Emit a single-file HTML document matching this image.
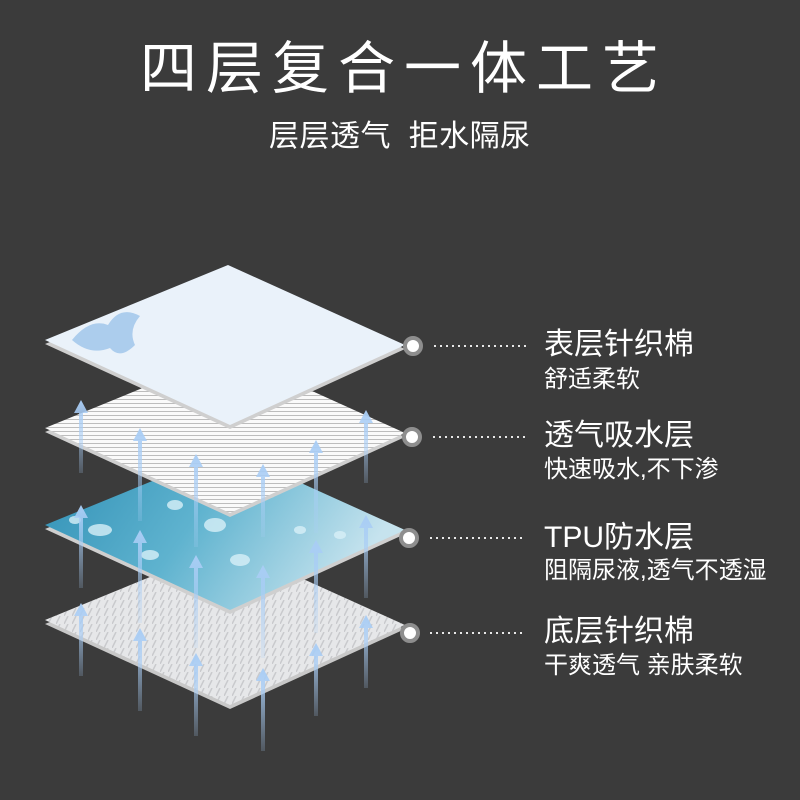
<!DOCTYPE html>
<html><head><meta charset="utf-8"><style>
html,body{margin:0;padding:0;background:#3b3b3b;}
body{width:800px;height:800px;position:relative;overflow:hidden;font-family:"Liberation Sans","Noto Sans CJK SC",sans-serif;color:#fff;}
.t{position:absolute;white-space:nowrap;}
.m{font-size:30px;line-height:36px}
.s{font-size:24px;line-height:28px}
</style></head><body>
<svg width="800" height="800" style="position:absolute;left:0;top:0">
<defs>
<pattern id="stripes" width="6" height="4" patternUnits="userSpaceOnUse"><rect width="6" height="4" fill="#fafafa"/><rect y="3" width="6" height="1" fill="#bdbdbd"/></pattern>
<linearGradient id="water" x1="0" y1="0" x2="1" y2="0.3"><stop offset="0" stop-color="#2f8fb5"/><stop offset="0.5" stop-color="#5fb3cf"/><stop offset="1" stop-color="#c6e3ee"/></linearGradient>
<pattern id="weave" width="8" height="8" patternUnits="userSpaceOnUse"><rect width="8" height="8" fill="#e6e7e9"/><path d="M0 8 L4 0" stroke="#c9cacd" stroke-width="1.5"/></pattern>
<linearGradient id="arr" x1="0" y1="0" x2="0" y2="1"><stop offset="0" stop-color="#a9cdf5"/><stop offset="1" stop-color="#a9cdf5" stop-opacity="0.2"/></linearGradient>
</defs>
<g transform="translate(0,280)">
<polygon points="45,344 228,269 405,349 230,429" fill="#c8c8c8"/>
<polygon points="45,340 228,265 405,345 230,425" fill="url(#weave)"/>
</g>
<g transform="translate(0,185)">
<polygon points="45,344 228,269 405,349 230,429" fill="#cfcfcf"/>
<polygon points="45,340 228,265 405,345 230,425" fill="url(#water)"/>
<g fill="#d8f0f8" opacity="0.8">
<ellipse cx="100" cy="345" rx="12" ry="6"/><ellipse cx="215" cy="340" rx="11" ry="7"/><ellipse cx="175" cy="320" rx="8" ry="5"/><ellipse cx="240" cy="375" rx="10" ry="6"/><ellipse cx="300" cy="345" rx="6" ry="4"/><ellipse cx="150" cy="370" rx="9" ry="5"/><ellipse cx="270" cy="310" rx="5" ry="3"/><ellipse cx="340" cy="350" rx="6" ry="4"/><ellipse cx="75" cy="335" rx="6" ry="4"/>
</g></g>
<g transform="translate(0,88)">
<polygon points="45,344 228,269 405,349 230,429" fill="#cfcfcf"/>
<polygon points="45,340 228,265 405,345 230,425" fill="url(#stripes)"/>
</g>
<polygon points="45,344 228,269 405,349 230,429" fill="#cfcfcf"/>
<polygon points="45,340 228,265 405,345 230,425" fill="#eaf2fa"/>
<path d="M72,340 Q90,318 108,325 Q120,305 140,316 Q128,330 135,345 Q120,360 110,348 Q90,356 72,340Z" fill="#9cc3ea" opacity="0.8"/>
<g fill="url(#arr)">
<path d="M81,400 l-7,13 h5 v60 h4 v-60 h5z"/>
<path d="M140,428 l-7,13 h5 v80 h4 v-80 h5z"/>
<path d="M196,454 l-7,13 h5 v80 h4 v-80 h5z"/>
<path d="M263,464 l-7,13 h5 v60 h4 v-60 h5z"/>
<path d="M316,440 l-7,13 h5 v80 h4 v-80 h5z"/>
<path d="M366,410 l-7,13 h5 v60 h4 v-60 h5z"/>
<path d="M81,505 l-7,13 h5 v70 h4 v-70 h5z"/>
<path d="M140,530 l-7,13 h5 v80 h4 v-80 h5z"/>
<path d="M196,555 l-7,13 h5 v80 h4 v-80 h5z"/>
<path d="M263,565 l-7,13 h5 v80 h4 v-80 h5z"/>
<path d="M316,540 l-7,13 h5 v80 h4 v-80 h5z"/>
<path d="M366,515 l-7,13 h5 v70 h4 v-70 h5z"/>
<path d="M81,603 l-7,13 h5 v60 h4 v-60 h5z"/>
<path d="M140,628 l-7,13 h5 v70 h4 v-70 h5z"/>
<path d="M196,653 l-7,13 h5 v70 h4 v-70 h5z"/>
<path d="M263,668 l-7,13 h5 v70 h4 v-70 h5z"/>
<path d="M316,643 l-7,13 h5 v60 h4 v-60 h5z"/>
<path d="M366,615 l-7,13 h5 v60 h4 v-60 h5z"/>
</g>
<g fill="#fff" stroke="#8e8e8e" stroke-width="4">
<circle cx="413" cy="346" r="8"/><circle cx="412" cy="437" r="8"/><circle cx="409" cy="538" r="8"/><circle cx="410" cy="633" r="8"/>
</g>
<g stroke="#e8e8e8" stroke-width="2" stroke-dasharray="2,4">
<line x1="434" y1="346" x2="526" y2="346"/><line x1="433" y1="437" x2="526" y2="437"/><line x1="430" y1="538" x2="524" y2="538"/><line x1="430" y1="633" x2="524" y2="633"/>
</g>
</svg>
<div class="t" style="left:140px;top:34px;font-size:57px;letter-spacing:9px;line-height:70px">四层复合一体工艺</div>
<div class="t" style="left:269px;top:119px;font-size:30px;line-height:36px;letter-spacing:0.5px">层层透气&nbsp;&nbsp;拒水隔尿</div>
<div class="t m" style="left:544px;top:327px">表层针织棉</div>
<div class="t s" style="left:544px;top:366px">舒适柔软</div>
<div class="t m" style="left:544px;top:418px">透气吸水层</div>
<div class="t s" style="left:544px;top:456px">快速吸水,不下渗</div>
<div class="t m" style="left:544px;top:520px">TPU防水层</div>
<div class="t s" style="left:544px;top:557px">阻隔尿液,透气不透湿</div>
<div class="t m" style="left:544px;top:614px">底层针织棉</div>
<div class="t s" style="left:544px;top:652px">干爽透气 亲肤柔软</div>
</body></html>
